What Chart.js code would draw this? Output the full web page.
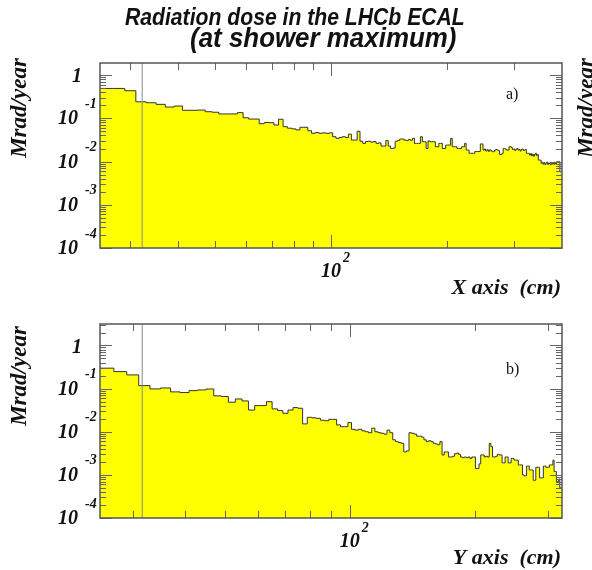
<!DOCTYPE html>
<html>
<head>
<meta charset="utf-8">
<script src="https://cdn.jsdelivr.net/npm/chart.js@4.4.0/dist/chart.umd.min.js"></script>
<style>
  html, body { margin: 0; padding: 0; background: #fff; }
  #wrap { position: relative; width: 592px; height: 570px; }
  canvas { position: absolute; left: 0; }
</style>
</head>
<body>
<div id="wrap">
  <canvas id="chartX" width="592" height="300" style="top:0"></canvas>
  <canvas id="chartY" width="592" height="270" style="top:300px"></canvas>
</div>
<script>
// histogram binning (cm), bins are 2 cm wide starting at 25 cm
const binStart = 25;
const binWidth = 2;

// a) dose along X (Mrad/year), one value per 2 cm bin from 25 cm
const doseX = [
  0.49, 0.49, 0.434, 0.241, 0.229, 0.21, 0.182, 0.192, 0.153, 0.153,
  0.155, 0.142, 0.138, 0.126, 0.126, 0.126, 0.135, 0.103, 0.096, 0.096,
  0.075, 0.08, 0.079, 0.07, 0.095, 0.064, 0.059, 0.057, 0.054,
  0.062, 0.062, 0.0516, 0.045, 0.047, 0.045, 0.046, 0.045, 0.046, 0.0375,
  0.0344, 0.036, 0.0375, 0.036, 0.043, 0.0314, 0.0314, 0.05, 0.0295, 0.0263,
  0.029, 0.0295, 0.028, 0.029, 0.0263, 0.027, 0.0228, 0.0228, 0.0305, 0.0228,
  0.02, 0.0205, 0.0295, 0.0305, 0.0332, 0.0332, 0.0314, 0.0305, 0.0322, 0.031,
  0.0344, 0.0263, 0.0263, 0.0263, 0.0375, 0.0287, 0.0287, 0.020, 0.030, 0.0287,
  0.0287, 0.0287, 0.022, 0.022, 0.0263, 0.0263, 0.02, 0.02, 0.024, 0.024,
  0.024, 0.0344, 0.022, 0.022, 0.022, 0.020, 0.020, 0.020, 0.022, 0.022,
  0.0263, 0.0184, 0.0184, 0.0155, 0.0155, 0.0155, 0.0155, 0.017, 0.017, 0.017,
  0.017, 0.0255, 0.0255, 0.0184, 0.0195, 0.0175, 0.0188, 0.0172, 0.0186, 0.0178,
  0.0169, 0.0169, 0.0184, 0.019, 0.0184, 0.0178, 0.0145, 0.0145, 0.0155, 0.020,
  0.020, 0.019, 0.0184, 0.0184, 0.022, 0.022, 0.021, 0.019, 0.0195, 0.018,
  0.019, 0.02, 0.0185, 0.019, 0.0175, 0.019, 0.0195, 0.018, 0.0185, 0.019,
  0.0155, 0.0155, 0.0155, 0.0141, 0.0152, 0.0136, 0.0148, 0.0133, 0.0146, 0.0155,
  0.0138, 0.0145, 0.0108, 0.0108, 0.0108, 0.0091, 0.0096, 0.0087, 0.0094, 0.0085,
  0.0092, 0.0097, 0.0086, 0.0093, 0.0089, 0.0084, 0.0095, 0.0088, 0.0092, 0.0086,
  0.0096, 0.0089, 0.0099, 0.0099, 0.0099, 0.0099, 0.0058, 0.0058, 0.0058
];

// b) dose along Y (Mrad/year), one value per 2 cm bin from 25 cm
const doseY = [
  0.298, 0.248, 0.208, 0.1175, 0.0984, 0.1035, 0.084, 0.081, 0.0898, 0.0932,
  0.098, 0.068, 0.0655, 0.0483, 0.0575, 0.0518, 0.0319, 0.0404, 0.0404, 0.0499,
  0.0339, 0.031, 0.0268, 0.0319, 0.0363, 0.035, 0.0152, 0.0216, 0.021, 0.0205,
  0.0185, 0.018, 0.0194, 0.0194, 0.0144, 0.0131, 0.0131, 0.0163, 0.0114, 0.0109,
  0.0114, 0.0105, 0.01, 0.0095, 0.0121, 0.01, 0.0095, 0.0092, 0.0088, 0.0109,
  0.0095, 0.0065, 0.0059, 0.0056, 0.0054, 0.0034, 0.0036, 0.0095, 0.0092, 0.0088,
  0.0079, 0.0079, 0.0075, 0.0065, 0.0059, 0.0062, 0.0059, 0.0054, 0.0052, 0.005,
  0.0059, 0.0029, 0.0034, 0.0034, 0.0026, 0.0026, 0.0027, 0.0031, 0.0032, 0.003,
  0.0026, 0.0025, 0.0026, 0.0025, 0.0026, 0.0024, 0.0026, 0.0026, 0.0014, 0.0014,
  0.0018, 0.0029, 0.0029, 0.0026, 0.0027, 0.0026, 0.0054, 0.0045, 0.0026, 0.0026,
  0.0027, 0.003, 0.0029, 0.0029, 0.0019, 0.0019, 0.0026, 0.0026, 0.0019, 0.0019,
  0.0024, 0.0024, 0.0022, 0.0022, 0.0022, 0.0017, 0.0017, 0.0017, 0.001, 0.00095,
  0.00095, 0.0016, 0.0016, 0.0013, 0.0013, 0.0013, 0.00075, 0.00075, 0.0015, 0.0015,
  0.0015, 0.00085, 0.00085, 0.00085, 0.0016, 0.0016, 0.0015, 0.0015, 0.0015, 0.0017,
  0.0017, 0.0017, 0.0022, 0.0012, 0.0012, 0.0007, 0.0007, 0.0008, 0.0005, 0.0005
];

// axis ranges
const xRangeA = [25, 400];
const xRangeB = [25, 325];
const yRangeA = [1e-4, 1.9];
const yRangeB = [1e-4, 3.15];
const holeEdgeA = 32.2;   // thin grey line (beam-hole edge)
const holeEdgeB = 31.6;

// ticks
const yDecades = [-4, -3, -2, -1, 0];
const xMinorTicks = [30, 40, 50, 60, 70, 80, 90, 200, 300, 400];
const xMajorTicks = [100];

function histPoints(values) {
  const pts = values.map((v, i) => ({ x: binStart + i * binWidth, y: v }));
  pts.push({ x: binStart + values.length * binWidth, y: values[values.length - 1] });
  return pts;
}

const rootFrame = {
  id: 'rootFrame',
  afterDraw(chart, args, o) {
    const { ctx, chartArea: a, scales: { x, y } } = chart;
    ctx.save();

    // tick marks on all four sides, pointing inward
    ctx.strokeStyle = '#666';
    ctx.lineWidth = 1;
    ctx.beginPath();
    yDecades.forEach(e => {
      const base = Math.pow(10, e);
      const py = Math.round(y.getPixelForValue(base)) + 0.5;
      ctx.moveTo(a.left, py); ctx.lineTo(a.left + 12, py);
      ctx.moveTo(a.right, py); ctx.lineTo(a.right - 12, py);
      for (let m = 2; m <= 9; m++) {
        if (m * base >= y.max) break;
        const pm = Math.round(y.getPixelForValue(m * base)) + 0.5;
        ctx.moveTo(a.left, pm); ctx.lineTo(a.left + 6, pm);
        ctx.moveTo(a.right, pm); ctx.lineTo(a.right - 6, pm);
      }
    });
    const xTick = (v, len) => {
      if (v >= x.max) return;
      const px = Math.round(x.getPixelForValue(v)) + 0.5;
      ctx.moveTo(px, a.bottom); ctx.lineTo(px, a.bottom - len);
      ctx.moveTo(px, a.top); ctx.lineTo(px, a.top + len);
    };
    xMinorTicks.forEach(v => xTick(v, 7));
    xMajorTicks.forEach(v => xTick(v, 13));
    ctx.stroke();

    // frame
    ctx.strokeStyle = '#555';
    ctx.lineWidth = 1.5;
    ctx.strokeRect(a.left, a.top, a.right - a.left, a.bottom - a.top);

    // y tick labels
    ctx.fillStyle = '#111';
    ctx.textBaseline = 'middle';
    yDecades.forEach(e => {
      const py = y.getPixelForValue(Math.pow(10, e));
      if (e === 0) {
        ctx.font = 'italic bold 20px "Liberation Serif"';
        ctx.textAlign = 'right';
        ctx.fillText('1', a.left - 18, py + 2);
      } else {
        ctx.font = 'italic bold 20px "Liberation Serif"';
        ctx.textAlign = 'right';
        ctx.fillText('10', a.left - 22, py + 1);
        ctx.font = 'italic bold 14px "Liberation Serif"';
        ctx.textAlign = 'left';
        ctx.fillText(String(e), a.left - 15, py - 14);
      }
    });

    // x tick label 10^2
    xMajorTicks.forEach(v => {
      const px = x.getPixelForValue(v);
      ctx.font = 'italic bold 20px "Liberation Serif"';
      ctx.textAlign = 'center';
      ctx.fillText('10', px, a.bottom + 24);
      ctx.font = 'italic bold 14px "Liberation Serif"';
      ctx.textAlign = 'left';
      ctx.fillText(String(Math.round(Math.log10(v))), px + 12, a.bottom + 10);
    });

    // axis titles
    ctx.font = 'italic bold 22px "Liberation Serif"';
    ctx.textAlign = 'right';
    ctx.fillText(o.xTitle, a.right - 1, a.bottom + 40);
    ctx.font = 'italic bold 23px "Liberation Serif"';
    o.yTitleAt.forEach(cx => {
      ctx.save();
      ctx.translate(cx, o.yTitleMid);
      ctx.rotate(-Math.PI / 2);
      ctx.textAlign = 'center';
      ctx.fillText('Mrad/year', 0, 0);
      ctx.restore();
    });

    // panel tag
    ctx.font = '16px "Liberation Serif"';
    ctx.textAlign = 'left';
    ctx.fillText(o.tag, 506, o.tagY);

    // title (slightly condensed sans, like the original)
    if (o.title) {
      ctx.textBaseline = 'alphabetic';
      ctx.textAlign = 'left';
      ctx.save();
      ctx.translate(125, 25);
      ctx.scale(0.92, 1);
      ctx.font = 'italic bold 23px "Liberation Sans"';
      ctx.fillText(o.title[0], 0, 0);
      ctx.restore();
      ctx.save();
      ctx.translate(190, 47);
      ctx.scale(0.96, 1);
      ctx.font = 'italic bold 27px "Liberation Sans"';
      ctx.fillText(o.title[1], 0, 0);
      ctx.restore();
    }
    ctx.restore();
  }
};

function makePanel(id, values, xr, yr, hole, pad, frameOpts) {
  new Chart(document.getElementById(id), {
    type: 'line',
    data: {
      datasets: [
        {
          data: [{ x: hole, y: yr[0] }, { x: hole, y: yr[1] }],
          borderColor: '#8a8a8a',
          borderWidth: 1,
          pointRadius: 0,
          fill: false,
          order: 0
        },
        {
          data: histPoints(values),
          stepped: 'before',
          borderColor: '#333',
          borderWidth: 1,
          backgroundColor: '#ffff00',
          fill: 'start',
          pointRadius: 0,
          order: 1
        }
      ]
    },
    options: {
      responsive: false,
      animation: false,
      events: [],
      layout: { padding: pad },
      plugins: {
        legend: { display: false },
        tooltip: { enabled: false },
        rootFrame: frameOpts
      },
      scales: {
        x: { type: 'logarithmic', min: xr[0], max: xr[1], display: false },
        y: { type: 'logarithmic', min: yr[0], max: yr[1], display: false }
      }
    },
    plugins: [rootFrame]
  });
}

makePanel('chartX', doseX, xRangeA, yRangeA, holeEdgeA,
  { left: 100, right: 30, top: 63, bottom: 52 },
  { xTitle: 'X axis  (cm)', yTitleAt: [20, 587], yTitleMid: 108, tag: 'a)', tagY: 95,
    title: ['Radiation dose in the LHCb ECAL', '(at shower maximum)'] });

makePanel('chartY', doseY, xRangeB, yRangeB, holeEdgeB,
  { left: 100, right: 30, top: 24, bottom: 52 },
  { xTitle: 'Y axis  (cm)', yTitleAt: [20], yTitleMid: 76, tag: 'b)', tagY: 70 });
</script>
</body>
</html>
